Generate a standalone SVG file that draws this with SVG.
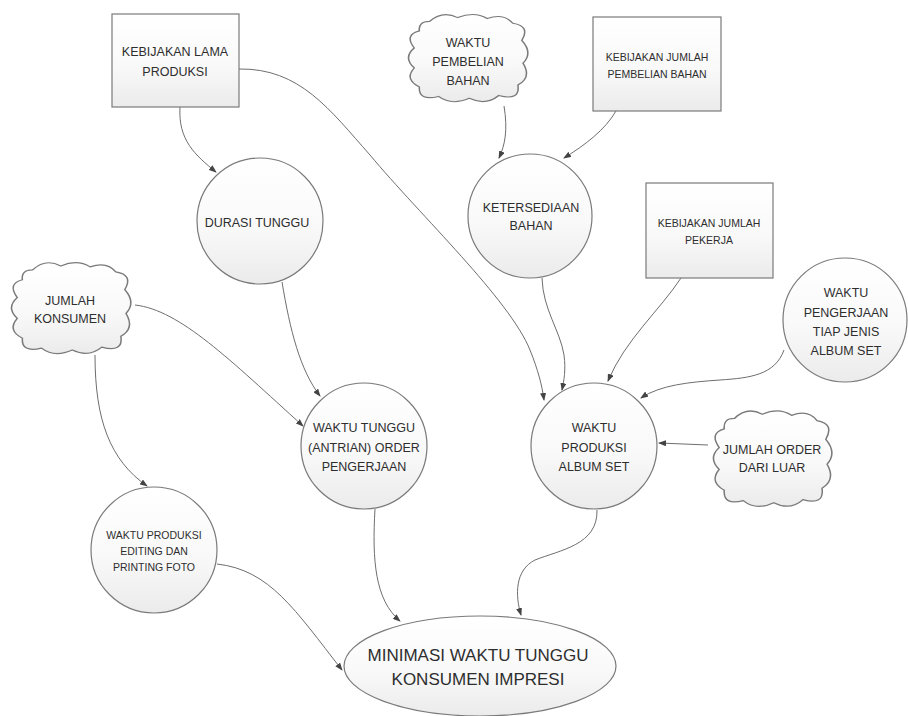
<svg xmlns="http://www.w3.org/2000/svg" xmlns:xlink="http://www.w3.org/1999/xlink" width="908" height="716" viewBox="0 0 908 716">
<style>
.shape{fill:url(#g);stroke:#7a7a7a;stroke-width:1.2}
.cloud{fill:url(#g);stroke:#7a7a7a;stroke-width:1.2;vector-effect:non-scaling-stroke}
.t{font-family:"Liberation Sans",Arial,sans-serif;fill:#2e2e2e;text-anchor:middle;font-size:12.5px}
.s{font-size:10.5px}
.big{font-size:17px}
.c{fill:none;stroke:#6e6e6e;stroke-width:1;marker-end:url(#a)}
</style>
<defs>
<linearGradient id="g" x1="0" y1="0" x2="0" y2="1">
<stop offset="0" stop-color="#ffffff"/>
<stop offset="0.55" stop-color="#f9f9f9"/>
<stop offset="1" stop-color="#ebebeb"/>
</linearGradient>
<marker id="a" markerWidth="8" markerHeight="6" refX="7" refY="3" orient="auto" markerUnits="userSpaceOnUse">
<path d="M0,0 L8,3 L0,6 Z" fill="#444"/>
</marker>
<path id="cl" d="M20,12 Q30,0 42,8 Q55,1 65,9 Q78,3 85,14 Q99,17 92,32 Q101,45 93,56 Q100,71 89,79 Q91,96 74,90 Q64,101 51,93 Q37,101 27,91 Q11,96 12,81 Q0,73 8,61 Q-1,50 8,40 Q0,26 12,22 Q11,12 20,12 Z"/>
</defs>
<rect width="908" height="716" fill="#fff"/>
<g id="connectors">
<path class="c" d="M180,107 C178,140 195,155 216,172"/>
<path class="c" d="M239,69 C300,68 330,110 370,155 C420,215 510,300 530,350 C538,370 542,385 544,400"/>
<path class="c" d="M504,106 C508,130 505,145 499,158"/>
<path class="c" d="M616,111 C605,130 585,145 564,158"/>
<path class="c" d="M542,278 C543,310 560,330 564,355 C566,370 564,380 562,390"/>
<path class="c" d="M681,278 C660,310 625,340 608,381"/>
<path class="c" d="M784,350 C775,375 750,378 720,380 C690,382 660,385 641,398"/>
<path class="c" d="M708,445 L659,443"/>
<path class="c" d="M597,510 C598,545 560,550 535,560 C515,570 515,595 521,615"/>
<path class="c" d="M282,282 C290,330 300,370 320,396"/>
<path class="c" d="M135,305 C180,310 230,360 303,426"/>
<path class="c" d="M95,355 C95,420 110,460 147,486"/>
<path class="c" d="M375,509 C372,560 375,600 400,621"/>
<path class="c" d="M217,564 C270,570 295,610 342,670"/>
</g>
<g id="kebijakan-lama-produksi">
<rect class="shape" x="112" y="14" width="127" height="93"/>
<text class="t" x="175" y="56">KEBIJAKAN LAMA</text>
<text class="t" x="175" y="76">PRODUKSI</text>
</g>
<g id="waktu-pembelian-bahan">
<use href="#cl" class="cloud" transform="translate(404,10) scale(1.28,0.95)"/>
<text class="t" x="468" y="47">WAKTU</text>
<text class="t" x="468" y="66">PEMBELIAN</text>
<text class="t" x="468" y="85">BAHAN</text>
</g>
<g id="kebijakan-jumlah-pembelian-bahan">
<rect class="shape" x="593" y="17" width="128" height="94"/>
<text class="t s" x="657" y="61">KEBIJAKAN JUMLAH</text>
<text class="t s" x="657" y="78">PEMBELIAN BAHAN</text>
</g>
<g id="ketersediaan-bahan">
<circle class="shape" cx="530" cy="216" r="62"/>
<text class="t" x="531" y="212">KETERSEDIAAN</text>
<text class="t" x="531" y="230">BAHAN</text>
</g>
<g id="kebijakan-jumlah-pekerja">
<rect class="shape" x="646" y="183" width="127" height="95"/>
<text class="t s" x="709" y="227">KEBIJAKAN JUMLAH</text>
<text class="t s" x="709" y="244">PEKERJA</text>
</g>
<g id="waktu-pengerjaan">
<circle class="shape" cx="845" cy="320" r="62"/>
<text class="t" x="846" y="297">WAKTU</text>
<text class="t" x="846" y="317">PENGERJAAN</text>
<text class="t" x="846" y="336">TIAP JENIS</text>
<text class="t" x="846" y="355">ALBUM SET</text>
</g>
<g id="durasi-tunggu">
<circle class="shape" cx="260" cy="221" r="63"/>
<text class="t" x="257" y="227">DURASI TUNGGU</text>
</g>
<g id="jumlah-konsumen">
<use href="#cl" class="cloud" transform="translate(7,258) scale(1.28,0.99)"/>
<text class="t" x="70" y="305">JUMLAH</text>
<text class="t" x="70" y="323">KONSUMEN</text>
</g>
<g id="waktu-tunggu-antrian">
<circle class="shape" cx="364" cy="446" r="63"/>
<text class="t" x="364" y="432">WAKTU TUNGGU</text>
<text class="t" x="364" y="452">(ANTRIAN) ORDER</text>
<text class="t" x="364" y="471">PENGERJAAN</text>
</g>
<g id="waktu-produksi-editing">
<circle class="shape" cx="154" cy="550" r="63"/>
<text class="t s" x="154" y="539">WAKTU PRODUKSI</text>
<text class="t s" x="154" y="555">EDITING DAN</text>
<text class="t s" x="154" y="571">PRINTING FOTO</text>
</g>
<g id="waktu-produksi-album-set">
<circle class="shape" cx="594" cy="446" r="63"/>
<text class="t" x="594" y="432">WAKTU</text>
<text class="t" x="594" y="452">PRODUKSI</text>
<text class="t" x="594" y="471">ALBUM SET</text>
</g>
<g id="jumlah-order-dari-luar">
<use href="#cl" class="cloud" transform="translate(709,406) scale(1.27,1.04)"/>
<text class="t" x="772" y="454">JUMLAH ORDER</text>
<text class="t" x="772" y="472">DARI LUAR</text>
</g>
<g id="minimasi">
<ellipse class="shape" cx="480" cy="666" rx="136" ry="50"/>
<text class="t big" x="478" y="661">MINIMASI WAKTU TUNGGU</text>
<text class="t big" x="478" y="685">KONSUMEN IMPRESI</text>
</g>
</svg>
